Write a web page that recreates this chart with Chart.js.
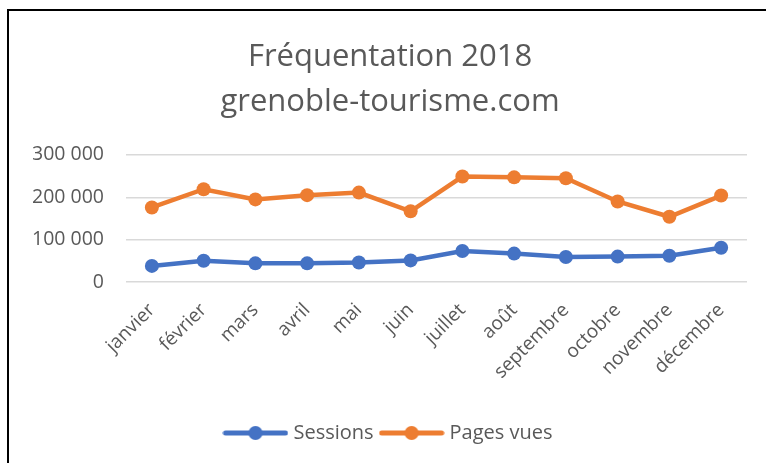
<!DOCTYPE html>
<html>
<head>
<meta charset="utf-8">
<script src="https://cdn.jsdelivr.net/npm/chart.js@4"></script>
<style>
  html, body { margin: 0; padding: 0; background: #fff; }
  #wrap { position: relative; width: 766px; height: 463px; overflow: hidden; }
  #frame { position: absolute; left: 7px; top: 9px; width: 800px; height: 500px;
           border-left: 2px solid #000; border-top: 2px solid #000; pointer-events: none; }
</style>
</head>
<body>
<div id="wrap">
  <canvas id="chart" width="766" height="463"></canvas>
  <div id="frame"></div>
</div>
<script>
// Fréquentation mensuelle 2018
const mois = ['janvier', 'février', 'mars', 'avril', 'mai', 'juin', 'juillet',
  'août', 'septembre', 'octobre', 'novembre', 'décembre'];
const sessions = [38000, 50000, 44000, 44000, 46000, 51000, 73000, 67000, 59000, 60000, 62000, 81000];
const pagesVues = [176000, 219000, 195000, 205000, 211000, 167000, 249000, 247000, 245000, 190000, 154000, 204000];
const yTicks = [0, 100000, 200000, 300000];

const BLEU = '#4472C4';
const ORANGE = '#ED7D31';
const GRIS = '#595959';
const FONT = "'Open Sans', sans-serif";

function formatNombre(v) {
  return String(v).replace(/\B(?=(\d{3})+(?!\d))/g, ' ');
}

// petite icône ligne + point pour la légende
// (un peu plus large que la boîte pour rapprocher le texte)
function iconeLegende(couleur) {
  const c = document.createElement('canvas');
  c.width = 66; c.height = 16;
  const g = c.getContext('2d');
  g.strokeStyle = couleur;
  g.lineWidth = 5;
  g.lineCap = 'round';
  g.beginPath(); g.moveTo(3, 8); g.lineTo(63, 8); g.stroke();
  g.fillStyle = couleur;
  g.beginPath(); g.arc(33, 8, 7, 0, Math.PI * 2); g.fill();
  return c;
}

const icones = [iconeLegende(BLEU), iconeLegende(ORANGE)];

new Chart(document.getElementById('chart'), {
  type: 'line',
  data: {
    labels: mois,
    datasets: [{
      label: 'Sessions',
      data: sessions,
      borderColor: BLEU,
      backgroundColor: BLEU,
      borderWidth: 4.5,
      pointRadius: 7,
      pointHoverRadius: 7,
      pointBorderWidth: 0,
      tension: 0
    }, {
      label: 'Pages vues',
      data: pagesVues,
      borderColor: ORANGE,
      backgroundColor: ORANGE,
      borderWidth: 4.5,
      pointRadius: 7,
      pointHoverRadius: 7,
      pointBorderWidth: 0,
      tension: 0
    }]
  },
  options: {
    responsive: false,
    animation: false,
    layout: { padding: { top: 0, left: 33, right: 19, bottom: 10 } },
    plugins: {
      title: {
        display: true,
        text: ['Fréquentation 2018', 'grenoble-tourisme.com'],
        color: GRIS,
        font: { family: FONT, size: 31, weight: 'normal', lineHeight: 1.45 },
        padding: { top: 35, bottom: 30 }
      },
      legend: {
        position: 'bottom',
        labels: {
          color: GRIS,
          font: { family: FONT, size: 20 },
          usePointStyle: true,
          pointStyleWidth: 56,
          padding: 10,
          generateLabels(chart) {
            return chart.data.datasets.map((ds, i) => ({
              text: ds.label,
              fillStyle: ds.borderColor,
              strokeStyle: ds.borderColor,
              pointStyle: icones[i],
              fontColor: GRIS,
              lineWidth: 0,
              datasetIndex: i
            }));
          }
        }
      },
      tooltip: { enabled: false }
    },
    scales: {
      x: {
        offset: true,
        grid: { display: false },
        border: { display: false },
        ticks: {
          color: GRIS,
          font: { family: FONT, size: 19 },
          minRotation: 45,
          maxRotation: 45,
          autoSkip: false,
          padding: 9
        },
        afterFit(scale) { scale.height = 131; }
      },
      y: {
        min: 0,
        max: 300000,
        grid: { color: '#d9d9d9', lineWidth: 1.5, drawTicks: false },
        border: { display: false },
        afterBuildTicks(scale) { scale.ticks = yTicks.map(v => ({ value: v })); },
        ticks: {
          color: GRIS,
          font: { family: FONT, size: 19.5 },
          padding: 22,
          callback: v => formatNombre(v)
        },
        afterFit(scale) { scale.width = 93; }
      }
    }
  }
});
</script>
</body>
</html>
